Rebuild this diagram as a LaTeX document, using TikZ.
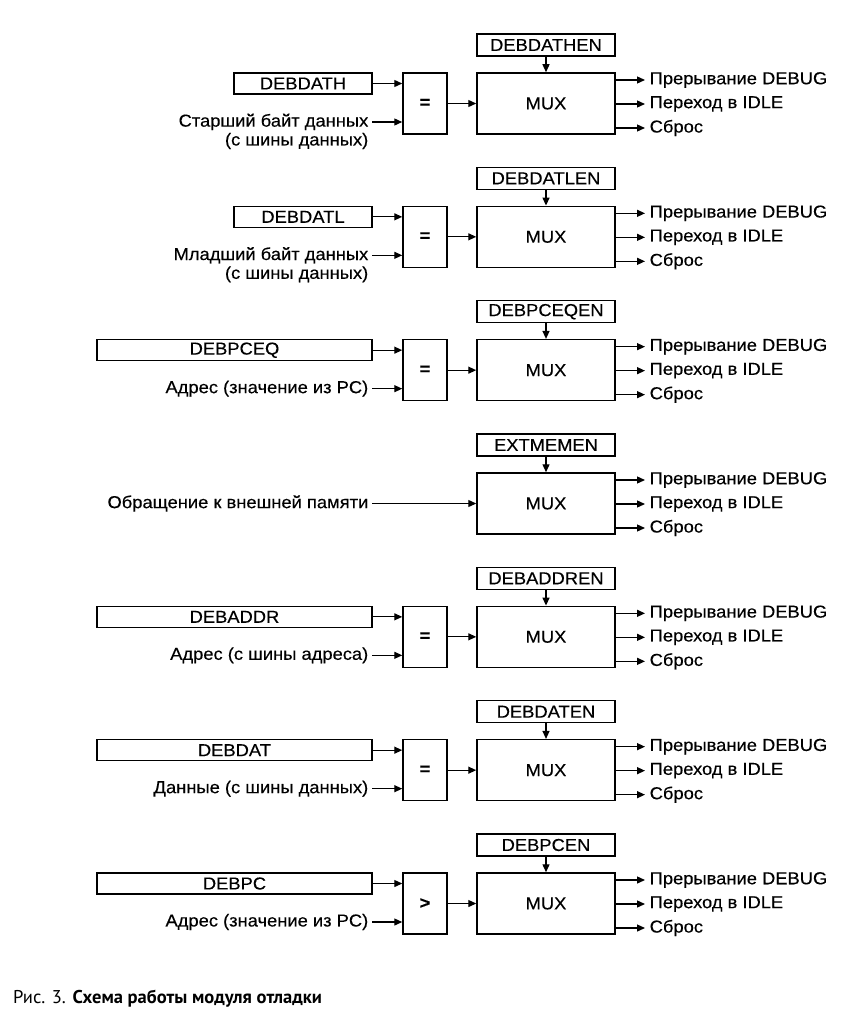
\documentclass[tikz,border=0pt]{standalone}
\usepackage{fontspec}
\setmainfont{Liberation Sans}[FakeStretch=1.06,FakeBold=0.3]
\newfontfamily\capfont{PT Sans}
\usetikzlibrary{arrows.meta}
\tikzset{
  box/.style={draw, line width=1.5pt, inner sep=0pt, fill=white},
  arr/.style={-{Triangle[length=8pt,width=7pt]}, line width=1.3pt},
  lbl/.style={inner sep=2pt},
}
\newcommand\muxblock[3]{%
  \node[box, minimum width=138pt, minimum height=22pt] (en#1) at (546,{45+#2}) {#3};
  \node[box, minimum width=138pt, minimum height=61pt] (mux#1) at (546,{103.5+#2}) {MUX};
  \draw[arr] (en#1) -- (mux#1);
  \node[lbl, anchor=west, inner xsep=4.5pt] (oa#1) at (645,{80+#2}) {Прерывание DEBUG};
  \node[lbl, anchor=west, inner xsep=4.5pt] (ob#1) at (645,{104+#2}) {Переход в IDLE};
  \node[lbl, anchor=west, inner xsep=4.5pt] (oc#1) at (645,{128+#2}) {Сброс};
  \draw[arr] (mux#1.east |- oa#1) -- (oa#1);
  \draw[arr] (mux#1.east |- ob#1) -- (ob#1);
  \draw[arr] (mux#1.east |- oc#1) -- (oc#1);
}
\newcommand\cmpblock[6]{%
  \node[box, minimum width=44pt, minimum height=61pt] (op#1) at (425,{103.5+#2}) {\textbf{#5}};
  \node[box, minimum width={372-#3}, minimum height=21pt] (lb#1) at ({(372+#3)/2},{83.5+#2}) {#4};
  \draw[arr] (lb#1) -- (lb#1 -| op#1.west);
  \node[lbl, anchor=east, inner xsep=3.5pt] (in#1) at (372,{122+#2}) {#6};
  \draw[arr] (in#1) -- (in#1 -| op#1.west);
  \draw[arr] (op#1) -- (op#1 -| mux#1.west);
}
\begin{document}
\begin{tikzpicture}[x=1pt,y=-1pt, font=\fontsize{17.3}{19}\selectfont]
\useasboundingbox[fill=white] (0,0) rectangle (867,1024);

% Block 1
\muxblock{1}{0}{DEBDATHEN}
\cmpblock{1}{0}{234}{DEBDATH}{=}{Старший байт данных}
\node[lbl, anchor=east, inner xsep=3.5pt] (in1b) at (372,141) {(с шины данных)};

% Block 2
\muxblock{2}{133.33}{DEBDATLEN}
\cmpblock{2}{133.33}{234}{DEBDATL}{=}{Младший байт данных}
\node[lbl, anchor=east, inner xsep=3.5pt] (in2b) at (372,274.33) {(с шины данных)};

% Block 3
\muxblock{3}{266.67}{DEBPCEQEN}
\cmpblock{3}{266.67}{97}{DEBPCEQ}{=}{Адрес (значение из PC)}

% Block 4
\muxblock{4}{400}{EXTMEMEN}
\node[lbl, anchor=east, inner xsep=3.5pt] (in4) at (372,503.5) {Обращение к внешней памяти};
\draw[arr] (in4) -- (in4 -| mux4.west);

% Block 5
\muxblock{5}{533.33}{DEBADDREN}
\cmpblock{5}{533.33}{97}{DEBADDR}{=}{Адрес (с шины адреса)}

% Block 6
\muxblock{6}{666.67}{DEBDATEN}
\cmpblock{6}{666.67}{97}{DEBDAT}{=}{Данные (с шины данных)}

% Block 7
\muxblock{7}{800}{DEBPCEN}
\cmpblock{7}{800}{97}{DEBPC}{>}{Адрес (значение из PC)}

% Caption
\node[anchor=base west, inner sep=0pt, font=\capfont\fontsize{18.5}{21}\selectfont] (cap) at (13,1003) {Рис. 3. \textbf{Схема работы модуля отладки}};
\end{tikzpicture}
\end{document}
